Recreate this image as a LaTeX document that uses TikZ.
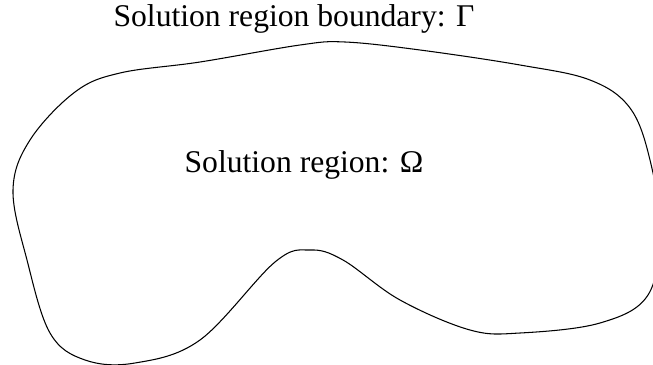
\documentclass[tikz,border=0pt]{standalone}
\usepackage{fontspec}
\setmainfont{Liberation Serif}
\usetikzlibrary{positioning}
\newcommand{\labelsize}{\fontsize{18}{21}\selectfont}
\tikzset{
 every node/.append style={font=\labelsize,text=black,inner sep=0pt},
 boundary/.style={draw=black,line width=.6pt},
}
\begin{document}
\begin{tikzpicture}[x=0.02cm,y=-0.02cm]

\useasboundingbox (0,0) rectangle (653,365);
\draw[boundary] plot[smooth cycle,tension=.6] coordinates {
 (300,45) (345,42) (420,50) (520,65) (590,80) (630,108) (650,160) (660,230) (648,295)
 (600,323) (520,333) (470,330) (400,300) (343,260) (310,250) (275,262)
 (200,340) (135,363) (85,360) (50,333) (27,260) (13,190) (30,140)
 (75,92) (120,73) (200,62)};
\node (gamma) at (294,19) {Solution region boundary: Γ};
\node (omega) at (304,165) {Solution region: Ω};

\end{tikzpicture}
\end{document}
